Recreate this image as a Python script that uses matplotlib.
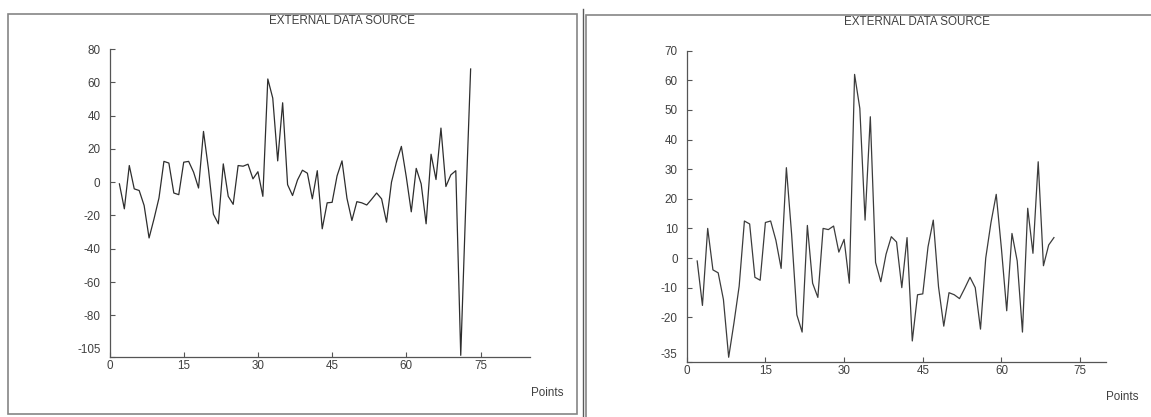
import numpy as np
import matplotlib.pyplot as plt
import matplotlib.transforms as mtransforms
from matplotlib.patches import Rectangle
from matplotlib.lines import Line2D

plt.rcParams['font.family'] = ['Liberation Sans', 'DejaVu Sans']

# values, one per point starting at x = 2
values = [-1, -16, 10, -4, -5, -14, -33.5, -22, -9.5, 12.5,
          11.5, -6.5, -7.5, 12, 12.5, 6, -3.5, 30.5, 8, -19.2,
          -25, 11, -8.5, -13.3, 10, 9.6, 10.8, 2, 6.3, -8.5,
          62, 50.5, 12.8, 47.7, -1.5, -8, 1.3, 7.2, 5.4, -10,
          6.9, -28, -12.4, -12.1, 3.8, 12.8, -9.7, -23, -11.7, -12.4,
          -13.7, -10.2, -6.5, -10, -24, 0, 12, 21.5, 3, -17.8,
          8.3, -1, -25, 16.8, 1.6, 32.5, -2.6, 4.4, 6.9]
# the left chart has three more points at the end
extra_left = [-104, -15, 68]

left_y = values + extra_left
right_y = values
left_x = np.arange(2, 2 + len(left_y))
right_x = np.arange(2, 2 + len(right_y))

xticks = [0, 15, 30, 45, 60, 75]
left_yticks = [80, 60, 40, 20, 0, -20, -40, -60, -80]
right_yticks = [70, 60, 50, 40, 30, 20, 10, 0, -10, -20]
title = "EXTERNAL DATA SOURCE"
xlabel = "Points"

W, H = 1151, 417
fig = plt.figure(figsize=(W / 100, H / 100), dpi=100)


def rect(x0, y0, x1, y1):
    return [x0 / W, 1 - y1 / H, (x1 - x0) / W, (y1 - y0) / H]


def fx(x):
    return x / W


def fy(y):
    return 1 - y / H


axis_col = "#555555"
text_col = "#404040"
fs = 8.4


def panel(box, xs, ys, xmax, ymin, ymax, yticks, line_col, title_xy, label_xy):
    ax = fig.add_axes(rect(*box))
    ax.plot(xs, ys, color=line_col, lw=0.9)
    ax.set_xlim(0, xmax)
    ax.set_ylim(ymin, ymax)
    for s in ["top", "right"]:
        ax.spines[s].set_visible(False)
    for s in ["left", "bottom"]:
        ax.spines[s].set_color(axis_col)
        ax.spines[s].set_linewidth(0.9)
    ax.set_xticks(xticks)
    ax.set_xticklabels([str(t) for t in xticks])
    ax.set_yticks(yticks + [ymin])
    ax.set_yticklabels([str(t) for t in yticks] + [""])
    ax.tick_params(direction="in", length=3.8, width=0.8, color=axis_col,
                   labelcolor=text_col, labelsize=fs)
    ax.tick_params(axis="y", pad=6.5)
    ax.tick_params(axis="x", pad=2.5)
    # the bottom value label sits a little above its tick
    off = mtransforms.ScaledTranslation(-0.09, 0.07, fig.dpi_scale_trans)
    ax.text(0, ymin, str(ymin), transform=ax.get_yaxis_transform() + off,
            ha="right", va="center", fontsize=fs, color=text_col)
    fig.text(fx(title_xy[0]), fy(title_xy[1]), title, ha="center", va="center",
             fontsize=fs, color=text_col)
    fig.text(fx(label_xy[0]), fy(label_xy[1]), xlabel, ha="center", va="center",
             fontsize=fs, color=text_col)
    return ax


panel((109.5, 49, 530, 357), left_x, left_y, 85, -105, 80, left_yticks,
      "#2e2e2e", (342, 21), (547, 393))
panel((686.7, 50.7, 1106.4, 361.7), right_x, right_y, 80, -35, 70, right_yticks,
      "#3c3c3c", (917, 22), (1122, 397))

# window frames
fig.add_artist(Rectangle((fx(8), fy(414)), fx(577 - 8), (414 - 14) / H,
                         transform=fig.transFigure, fill=False,
                         edgecolor="#858585", lw=1.2))
fig.add_artist(Rectangle((fx(586), fy(430)), fx(1170 - 586), (430 - 15) / H,
                         transform=fig.transFigure, fill=False,
                         edgecolor="#858585", lw=1.2))
fig.add_artist(Line2D([fx(583), fx(583)], [fy(9), fy(417)],
                      transform=fig.transFigure, color="#5a5a5a", lw=1.0))

fig.savefig("out.png", dpi=100, facecolor="white")
